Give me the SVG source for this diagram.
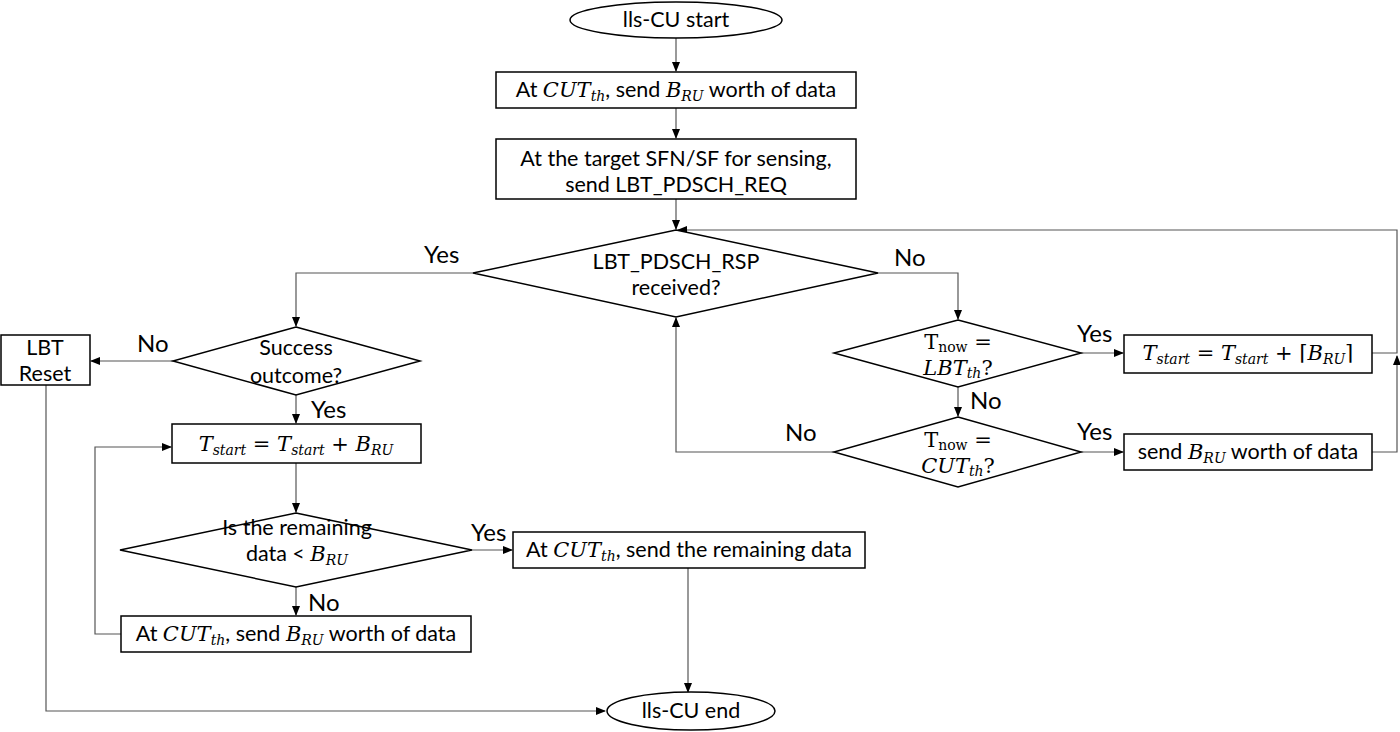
<svg xmlns="http://www.w3.org/2000/svg" width="1400" height="732" viewBox="0 0 1400 732">
<defs>
<style>
.s{fill:#fff;stroke:#000;stroke-width:1.5}
.c{fill:none;stroke:#555;stroke-width:1.2}
.t{font-family:Lato,"Liberation Sans",sans-serif;font-size:21.5px;fill:#000;text-anchor:middle}
.l{font-family:Lato,"Liberation Sans",sans-serif;font-size:24px;fill:#000}
.m{font-family:"DejaVu Serif",serif;font-style:italic;font-size:21px}
.r{font-family:"DejaVu Serif",serif;font-size:21px}
.sb{font-size:14px}
</style>
<marker id="a" markerWidth="10" markerHeight="8" refX="9" refY="4" orient="auto" markerUnits="userSpaceOnUse">
<path d="M0,0 L10,4 L0,8 Z" fill="#000"/>
</marker>
</defs>
<rect width="1400" height="732" fill="#fff"/>
<g id="connectors">
<path class="c" d="M676,38 V71" marker-end="url(#a)"/>
<path class="c" d="M676,108 V138" marker-end="url(#a)"/>
<path class="c" d="M676,199 V229" marker-end="url(#a)"/>
<path class="c" d="M473,273 H296 V326" marker-end="url(#a)"/>
<path class="c" d="M878,273 H958 V319" marker-end="url(#a)"/>
<path class="c" d="M173,361 H91" marker-end="url(#a)"/>
<path class="c" d="M296,395 V423" marker-end="url(#a)"/>
<path class="c" d="M296,463 V512" marker-end="url(#a)"/>
<path class="c" d="M472,550 H512" marker-end="url(#a)"/>
<path class="c" d="M296,587 V615" marker-end="url(#a)"/>
<path class="c" d="M121,634 H95 V447 H171" marker-end="url(#a)"/>
<path class="c" d="M688,568 V692" marker-end="url(#a)"/>
<path class="c" d="M46,385 V711 H605" marker-end="url(#a)"/>
<path class="c" d="M958,387 V416" marker-end="url(#a)"/>
<path class="c" d="M1081,353 H1123" marker-end="url(#a)"/>
<path class="c" d="M1081,452 H1123" marker-end="url(#a)"/>
<path class="c" d="M834,452 H676 V318" marker-end="url(#a)"/>
<path class="c" d="M1372,353 H1397 V230 H678" marker-end="url(#a)"/>
<path class="c" d="M1372,452 H1397 V356" marker-end="url(#a)"/>
<text class="l" x="424" y="263">Yes</text>
<text class="l" x="894" y="266">No</text>
<text class="l" x="137" y="352">No</text>
<text class="l" x="311" y="418">Yes</text>
<text class="l" x="471" y="541">Yes</text>
<text class="l" x="308" y="611">No</text>
<text class="l" x="1077" y="342">Yes</text>
<text class="l" x="1077" y="440">Yes</text>
<text class="l" x="970" y="409">No</text>
<text class="l" x="785" y="441">No</text>
</g>
<g id="start">
<ellipse class="s" cx="676" cy="20" rx="106" ry="18"/>
<text class="t" x="676" y="27">lls-CU start</text>
</g>
<g id="send1">
<rect class="s" x="496" y="72" width="360" height="36"/>
<text class="t" x="676" y="97">At <tspan class="m">CUT</tspan><tspan class="m sb" dy="4">th</tspan><tspan dy="-4">, send </tspan><tspan class="m">B</tspan><tspan class="m sb" dy="4">RU</tspan><tspan dy="-4"> worth of data</tspan></text>
</g>
<g id="req">
<rect class="s" x="496" y="139" width="360" height="60"/>
<text class="t" x="676" y="166">At the target SFN/SF for sensing,</text>
<text class="t" x="676" y="192">send LBT_PDSCH_REQ</text>
</g>
<g id="rsp">
<path class="s" d="M676,230 L878,273 L676,317 L473,273 Z"/>
<text class="t" x="676" y="269">LBT_PDSCH_RSP</text>
<text class="t" x="676" y="295">received?</text>
</g>
<g id="success">
<path class="s" d="M296,327 L420,361 L296,395 L173,361 Z"/>
<text class="t" x="296" y="355">Success</text>
<text class="t" x="296" y="383">outcome?</text>
</g>
<g id="reset">
<rect class="s" x="1" y="335" width="89" height="50"/>
<text class="t" x="45" y="355">LBT</text>
<text class="t" x="45" y="381">Reset</text>
</g>
<g id="tstart1">
<rect class="s" x="172" y="424" width="249" height="39"/>
<text class="t" x="296" y="451"><tspan class="m">T</tspan><tspan class="m sb" dy="4">start</tspan><tspan class="r" dy="-4"> = </tspan><tspan class="m">T</tspan><tspan class="m sb" dy="4">start</tspan><tspan class="r" dy="-4"> + </tspan><tspan class="m">B</tspan><tspan class="m sb" dy="4">RU</tspan></text>
</g>
<g id="remain">
<path class="s" d="M296,513 L472,550 L296,587 L120,550 Z"/>
<text class="t" x="297" y="535">Is the remaining</text>
<text class="t" x="297" y="561">data &lt; <tspan class="m">B</tspan><tspan class="m sb" dy="4">RU</tspan></text>
</g>
<g id="sendrem">
<rect class="s" x="513" y="532" width="352" height="36"/>
<text class="t" x="689" y="557">At <tspan class="m">CUT</tspan><tspan class="m sb" dy="4">th</tspan><tspan dy="-4">, send the remaining data</tspan></text>
</g>
<g id="send2">
<rect class="s" x="121" y="616" width="350" height="36"/>
<text class="t" x="296" y="641">At <tspan class="m">CUT</tspan><tspan class="m sb" dy="4">th</tspan><tspan dy="-4">, send </tspan><tspan class="m">B</tspan><tspan class="m sb" dy="4">RU</tspan><tspan dy="-4"> worth of data</tspan></text>
</g>
<g id="end">
<ellipse class="s" cx="691" cy="711" rx="84" ry="19"/>
<text class="t" x="691" y="718">lls-CU end</text>
</g>
<g id="lbtth">
<path class="s" d="M958,320 L1081,353 L958,387 L834,353 Z"/>
<text class="t" x="958" y="349"><tspan class="r">T</tspan><tspan class="r sb" dy="3">now</tspan><tspan class="r" dy="-3"> =</tspan></text>
<text class="t" x="958" y="375"><tspan class="m">LBT</tspan><tspan class="m sb" dy="3">th</tspan><tspan class="r" dy="-3">?</tspan></text>
</g>
<g id="cutth">
<path class="s" d="M958,417 L1081,452 L958,487 L834,452 Z"/>
<text class="t" x="958" y="447"><tspan class="r">T</tspan><tspan class="r sb" dy="3">now</tspan><tspan class="r" dy="-3"> =</tspan></text>
<text class="t" x="958" y="473"><tspan class="m">CUT</tspan><tspan class="m sb" dy="3">th</tspan><tspan class="r" dy="-3">?</tspan></text>
</g>
<g id="tstart2">
<rect class="s" x="1124" y="335" width="248" height="38"/>
<text class="t" x="1248" y="360"><tspan class="m">T</tspan><tspan class="m sb" dy="4">start</tspan><tspan class="r" dy="-4"> = </tspan><tspan class="m">T</tspan><tspan class="m sb" dy="4">start</tspan><tspan class="r" dy="-4"> + ⌈</tspan><tspan class="m">B</tspan><tspan class="m sb" dy="4">RU</tspan><tspan class="r" dy="-4">⌉</tspan></text>
</g>
<g id="sendb">
<rect class="s" x="1124" y="434" width="248" height="36"/>
<text class="t" x="1248" y="459">send <tspan class="m">B</tspan><tspan class="m sb" dy="4">RU</tspan><tspan dy="-4"> worth of data</tspan></text>
</g>
</svg>
